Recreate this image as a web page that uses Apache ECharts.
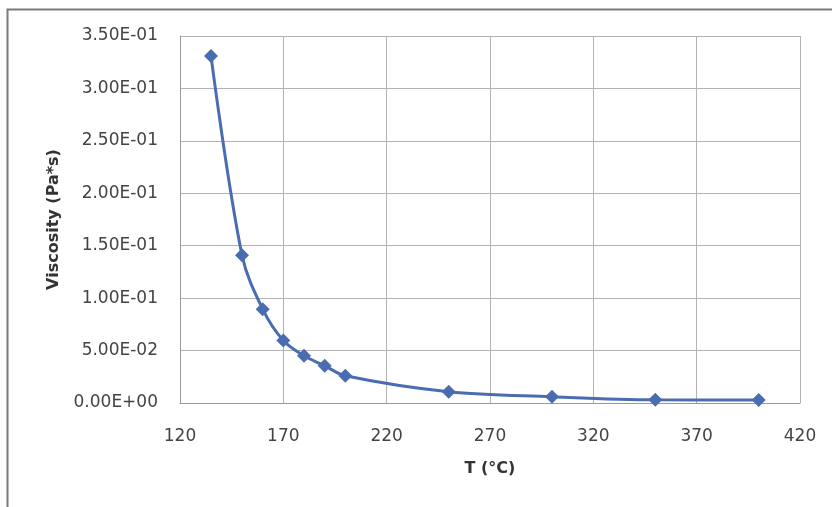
<!DOCTYPE html>
<html>
<head>
<meta charset="utf-8">
<script src="https://cdn.jsdelivr.net/npm/echarts@6/dist/echarts.min.js"></script>
<style>html,body{margin:0;padding:0;background:#fff}#c{width:832px;height:507px}</style>
</head>
<body>
<div id="c"></div>
<script>
var temperatures = [135, 150, 160, 170, 180, 190, 200, 250, 300, 350, 400];
var viscosities = [0.331, 0.141, 0.0895, 0.0595, 0.045, 0.0355, 0.026, 0.0108, 0.006, 0.003, 0.0028];
var xTicks = { min: 120, max: 420, step: 50 };
var yTicks = { min: 0, max: 0.35, step: 0.05 };

function sci(v) {
  var s = Number(v).toExponential(2).toUpperCase();
  var m = s.split('E');
  var exp = parseInt(m[1], 10);
  var sign = exp < 0 ? '-' : '+';
  var a = Math.abs(exp);
  return m[0] + 'E' + sign + (a < 10 ? '0' + a : a);
}

var chart = echarts.init(document.getElementById('c'), null, { renderer: 'canvas' });
var font = '"DejaVu Sans", sans-serif';
chart.setOption({
  animation: false,
  backgroundColor: '#fff',
  graphic: [{
    type: 'polyline',
    shape: { points: [[7.5, 520], [7.5, 9.5], [840, 9.5]] },
    style: { stroke: '#7a7a7a', lineWidth: 2, fill: null },
    silent: true
  }, {
    type: 'line',
    shape: { x1: 800.5, y1: 36, x2: 800.5, y2: 403 },
    style: { stroke: '#b3b3b3', lineWidth: 1 },
    silent: true
  }],
  grid: { left: 180, top: 36, width: 620, height: 367 },
  xAxis: {
    type: 'value',
    min: xTicks.min, max: xTicks.max, interval: xTicks.step,
    name: 'T (°C)',
    nameLocation: 'middle',
    nameGap: 58,
    nameTextStyle: { fontFamily: font, fontSize: 16, fontWeight: 'bold', color: '#333' },
    axisLine: { show: true, lineStyle: { color: '#999', width: 1 } },
    axisTick: { show: false },
    splitLine: { show: true, lineStyle: { color: '#b3b3b3', width: 1 } },
    axisLabel: { fontFamily: font, fontSize: 17, color: '#444', margin: 25 }
  },
  yAxis: {
    type: 'value',
    min: yTicks.min, max: yTicks.max, interval: yTicks.step,
    name: 'Viscosity (Pa*s)',
    nameLocation: 'middle',
    nameGap: 118,
    nameRotate: 90,
    nameTextStyle: { fontFamily: font, fontSize: 16, fontWeight: 'bold', color: '#333' },
    axisLine: { show: true, lineStyle: { color: '#999', width: 1 } },
    axisTick: { show: false },
    splitLine: { show: true, lineStyle: { color: '#b3b3b3', width: 1 } },
    axisLabel: { fontFamily: font, fontSize: 17, color: '#444', margin: 22, formatter: sci }
  },
  series: [{
    type: 'line',
    data: temperatures.map(function (t, i) { return [t, viscosities[i]]; }),
    smooth: 0.35,
    symbol: 'diamond',
    symbolSize: 14,
    lineStyle: { color: '#4a6db2', width: 3 },
    itemStyle: { color: '#4a6db2' }
  }]
});
</script>
</body>
</html>
